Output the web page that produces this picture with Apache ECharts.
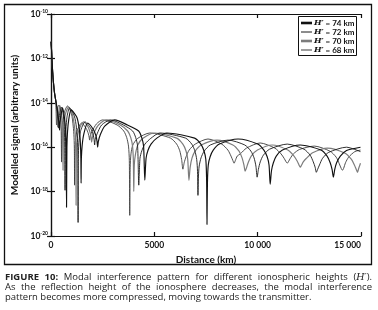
<!DOCTYPE html>
<html>
<head>
<meta charset="utf-8">
<script src="https://cdn.jsdelivr.net/npm/echarts@6/dist/echarts.min.js"></script>
<style>
  html, body { margin: 0; padding: 0; background: #fff; }
  #wrap { position: relative; width: 378px; height: 310px; }
  #chart { position: absolute; left: 0; top: 0; width: 378px; height: 310px; }
  #caption { position: absolute; left: 5px; top: 272px; width: 367px;
    font-family: "Open Sans", sans-serif; font-size: 9.5px; line-height: 9.8px; color: #222; }
  #caption .j { text-align: justify; text-align-last: justify; white-space: nowrap; }
  #caption .hp { font-family: "DejaVu Serif", serif; font-style: italic; }
</style>
</head>
<body>
<div id="wrap">
  <div id="chart"></div>
  <div id="caption">
    <div class="j"><b>FIGURE 10:</b> Modal interference pattern for different ionospheric heights (<span class="hp">H′</span>).</div>
    <div class="j">As the reflection height of the ionosphere decreases, the modal interference</div>
    <div>pattern becomes more compressed, moving towards the transmitter.</div>
  </div>
</div>
<script>
// distance in km, signal as log10 (exponent)
var heights = [74, 72, 70, 68]
var xTicks = [0, 5000, 10000, 15000]
var yTicks = [-20, -18, -16, -14, -12, -10]

var h74 = [
  [0,-11.25],[25,-11.6],[50,-12.1],[80,-12.6],[120,-13.1],[170,-13.55],[230,-13.9],
  [291,-14.2],
  [365,-14.75],[395,-14.95],[413,-15.23],[430,-14.95],[460,-14.7],
  [558,-14.23],
  [655,-14.7],[710,-15.3],[735,-16.0],[752,-18.71],[770,-16.0],[800,-15.3],[860,-14.75],
  [971,-14.32],
  [1250,-14.65],[1370,-15.2],[1420,-15.8],[1445,-16.5],[1456,-17.62],[1470,-16.5],[1510,-15.9],[1590,-15.4],
  [1772,-14.91],
  [2050,-15.2],[2180,-15.5],[2230,-15.75],[2257,-16.0],[2290,-15.75],[2380,-15.45],[2600,-15.05],
  [3082,-14.77],
  [3700,-15.0],[4240,-15.27],[4390,-15.57],[4480,-15.95],[4539,-17.49],[4600,-16.5],[4690,-16.15],[4840,-15.86],[5120,-15.59],
  [5606,-15.36],
  [6950,-15.59],[7250,-15.86],[7400,-16.16],[7490,-16.54],[7530,-17.5],[7548,-19.48],[7570,-17.6],[7610,-16.8],[7700,-16.43],[7850,-16.13],[8150,-15.86],
  [9053,-15.63],
  [10000,-15.86],[10300,-16.13],[10460,-16.43],[10550,-16.8],[10606,-17.67],[10670,-17.05],[10760,-16.7],[10900,-16.4],[11200,-16.13],
  [12062,-15.9],
  [13060,-16.13],[13360,-16.4],[13510,-16.7],[13600,-17.0],[13664,-17.35],[13730,-17.0],[13820,-16.7],[14000,-16.4],[14300,-16.15],
  [14975,-16.0]
]

var h72 = [
  [0,-11.25],[25,-11.6],[50,-12.1],[80,-12.6],[120,-13.1],[170,-13.55],[230,-13.9],
  [270,-14.15],
  [325,-14.6],[350,-14.85],[364,-15.14],[380,-14.85],[420,-14.5],
  [510,-14.19],
  [600,-14.6],[645,-15.2],[665,-15.9],[680,-17.94],[695,-15.9],[720,-15.2],[780,-14.6],
  [898,-14.23],
  [1130,-14.6],[1230,-15.1],[1280,-15.6],[1300,-16.4],[1311,-19.39],[1322,-16.5],[1350,-15.8],[1420,-15.3],
  [1650,-14.86],
  [1920,-15.15],[2040,-15.45],[2085,-15.65],[2111,-15.9],[2140,-15.65],[2230,-15.4],[2450,-15.0],
  [2888,-14.77],
  [3500,-15.0],[3950,-15.27],[4100,-15.57],[4190,-15.95],[4247,-17.71],[4305,-16.5],[4395,-16.16],[4545,-15.86],[4830,-15.6],
  [5267,-15.36],
  [6510,-15.59],[6810,-15.86],[6960,-16.16],[7050,-16.55],[7090,-17.1],[7111,-18.17],[7135,-17.3],[7170,-16.85],[7260,-16.48],[7410,-16.18],[7710,-15.9],
  [8568,-15.68],
  [9375,-15.9],[9675,-16.18],[9825,-16.48],[9915,-16.85],[9975,-17.35],[10035,-17.0],[10125,-16.66],[10275,-16.36],[10575,-16.09],
  [11431,-15.86],
  [12240,-16.09],[12540,-16.36],[12690,-16.66],[12780,-16.9],[12839,-17.13],[12900,-17.0],[12990,-16.8],[13140,-16.5],[13440,-16.23],
  [14295,-16.0],[14975,-16.2]
]

var h70 = [
  [0,-11.25],[25,-11.6],[50,-12.1],[80,-12.6],[120,-13.1],[170,-13.55],[230,-13.9],
  [270,-14.3],
  [290,-14.65],[316,-15.09],[340,-14.7],[380,-14.35],
  [437,-14.14],
  [500,-14.5],[550,-15.1],[568,-15.8],[582,-17.04],[596,-15.8],[620,-15.1],[700,-14.5],
  [850,-14.19],
  [1040,-14.55],[1140,-15.1],[1185,-15.6],[1204,-16.4],[1214,-18.62],[1226,-16.5],[1255,-15.8],[1330,-15.3],
  [1578,-14.86],
  [1800,-15.1],[1910,-15.4],[1945,-15.6],[1966,-15.77],[1995,-15.6],[2080,-15.35],[2300,-15.0],
  [2694,-14.77],
  [3350,-15.0],[3710,-15.27],[3860,-15.57],[3945,-15.95],[3985,-16.6],[4005,-17.99],[4030,-16.8],[4090,-16.3],[4200,-15.9],[4450,-15.6],
  [5024,-15.36],
  [6080,-15.59],[6380,-15.86],[6530,-16.16],[6615,-16.54],[6674,-17.49],[6735,-16.9],[6825,-16.48],[6975,-16.18],[7270,-15.9],
  [8033,-15.68],
  [8800,-15.9],[9100,-16.18],[9245,-16.48],[9335,-16.8],[9393,-17.08],[9450,-16.95],[9540,-16.7],[9690,-16.4],[9990,-16.13],
  [10703,-15.9],
  [11460,-16.13],[11760,-16.4],[11910,-16.62],[12000,-16.8],[12062,-16.9],[12125,-16.8],[12215,-16.65],[12360,-16.5],[12660,-16.25],
  [13373,-16.04],
  [14230,-16.27],[14530,-16.54],[14680,-16.8],[14770,-17.0],[14830,-17.13],[14890,-16.95],[14975,-16.72]
]

var h68 = [
  [0,-11.25],[25,-11.6],[50,-12.1],[80,-12.6],[120,-13.1],[170,-13.55],[230,-13.9],
  [245,-14.3],[267,-15.0],[290,-14.55],[330,-14.2],
  [388,-14.1],
  [450,-14.45],[485,-15.0],[498,-15.6],[510,-16.67],[522,-15.7],[540,-15.1],[620,-14.5],
  [801,-14.14],
  [990,-14.5],[1075,-15.05],[1115,-15.55],[1132,-16.2],[1141,-17.71],[1152,-16.4],[1180,-15.8],[1250,-15.3],
  [1480,-14.91],
  [1700,-15.15],[1810,-15.4],[1845,-15.55],[1869,-15.68],[1895,-15.5],[1980,-15.3],[2200,-14.95],
  [2500,-14.77],
  [3200,-15.0],[3520,-15.27],[3665,-15.57],[3750,-15.95],[3790,-16.6],[3810,-19.07],[3832,-16.9],[3870,-16.3],[3960,-15.9],[4200,-15.6],
  [4781,-15.36],
  [5780,-15.59],[6080,-15.86],[6230,-16.16],[6320,-16.55],[6383,-16.99],[6445,-16.7],[6535,-16.43],[6685,-16.13],[6980,-15.86],
  [7597,-15.63],
  [8260,-15.86],[8560,-16.13],[8710,-16.4],[8800,-16.6],[8859,-16.72],[8920,-16.6],[9010,-16.4],[9160,-16.3],[9460,-16.04],
  [10121,-15.81],
  [10830,-16.04],[11130,-16.3],[11280,-16.5],[11370,-16.65],[11431,-16.72],[11490,-16.65],[11580,-16.5],[11730,-16.3],[12030,-16.1],
  [12742,-15.95],
  [13500,-16.18],[13800,-16.45],[13950,-16.75],[14040,-16.95],[14101,-17.04],[14160,-16.95],[14250,-16.7],[14400,-16.45],[14700,-16.2],
  [14975,-16.13]
]

var curves = [h74, h72, h70, h68]
var lineColors = ['#111111', '#1a1a1a', '#7c7c7c', '#3c3c3c']
var lineWidths = [1.15, 0.9, 1.2, 0.9]
var legendWidths = [2.6, 1, 2.6, 1]

var chart = echarts.init(document.getElementById('chart'), null, { renderer: 'canvas' })
var font = 'Lato, "Open Sans", sans-serif'

var series = heights.map(function (h, i) {
  return {
    name: 'H′ = ' + h + ' km',
    type: 'line',
    data: curves[i],
    symbol: 'none',
    smooth: 0.25,
    lineStyle: { color: lineColors[i], width: lineWidths[i] },
    itemStyle: { color: lineColors[i] },
    z: 10 - i
  }
})

var fmtX = function (v) {
  if (v === 0) return '0'
  if (v < 10000) return String(v)
  return String(v / 1000) + ' 000'
}

// legend box drawn as graphic (line keys + labels)
var legendItems = [{
  type: 'rect',
  shape: { x: 298.5, y: 16.5, width: 58, height: 39 },
  style: { fill: '#fff', stroke: '#111', lineWidth: 1 },
  z: 100
}]
heights.forEach(function (h, i) {
  var cy = 23 + i * 9
  legendItems.push({
    type: 'line',
    shape: { x1: 301, y1: cy, x2: 312, y2: cy },
    style: { stroke: lineColors[i], lineWidth: legendWidths[i] },
    z: 101
  })
  legendItems.push({
    type: 'text',
    x: 314, y: cy,
    style: {
      text: '{h|H′}{t| = ' + h + ' km}',
      verticalAlign: 'middle',
      rich: {
        h: { fontFamily: '"DejaVu Serif", serif', fontStyle: 'italic', fontWeight: 'bold', fontSize: 8, fill: '#111' },
        t: { fontFamily: font, fontWeight: 'bold', fontSize: 8, fill: '#111' }
      }
    },
    z: 101
  })
})

var axisLine = { show: true, lineStyle: { color: '#111', width: 1.2 } }
var axisTick = { show: true, inside: true, length: 4, lineStyle: { color: '#111', width: 1.2 } }

var option = {
  animation: false,
  backgroundColor: '#fff',
  grid: { left: 51, top: 14, right: 17, bottom: 74 },
  xAxis: [{
    type: 'value', min: 0, max: 15000, interval: 5000,
    axisLine: axisLine, axisTick: axisTick, splitLine: { show: false },
    axisLabel: { formatter: fmtX, margin: 5, color: '#111', fontFamily: font, fontWeight: 'bold', fontSize: 8.5, alignMaxLabel: 'right' },
    name: 'Distance (km)', nameLocation: 'middle', nameGap: 16,
    nameTextStyle: { fontFamily: font, fontWeight: 'bold', fontSize: 10, color: '#111' }
  }, {
    type: 'value', position: 'top', min: 0, max: 15000, interval: 5000,
    axisLine: axisLine, axisTick: axisTick, splitLine: { show: false }, axisLabel: { show: false }
  }],
  yAxis: [{
    type: 'value', min: -20, max: -10, interval: 2,
    axisLine: axisLine, axisTick: axisTick, splitLine: { show: false },
    axisLabel: {
      margin: 3,
      formatter: function (v) { return '{b|10}{s|' + v + '}' },
      rich: {
        b: { fontFamily: font, fontWeight: 'bold', fontSize: 8.5, color: '#111' },
        s: { fontFamily: font, fontWeight: 'bold', fontSize: 5, color: '#111', padding: [0, 0, 5, 0] }
      }
    },
    name: 'Modelled signal (arbitrary units)', nameLocation: 'middle', nameGap: 31,
    nameTextStyle: { fontFamily: font, fontWeight: 'bold', fontSize: 10, color: '#111' }
  }, {
    type: 'value', position: 'right', min: -20, max: -10, interval: 2,
    axisLine: axisLine, axisTick: axisTick, splitLine: { show: false }, axisLabel: { show: false }
  }],
  graphic: [{
    type: 'rect',
    shape: { x: 4.5, y: 4.5, width: 367, height: 260 },
    style: { fill: 'none', stroke: '#111', lineWidth: 1.3 },
    silent: true
  }].concat(legendItems),
  series: series
}

chart.setOption(option)
</script>
</body>
</html>
